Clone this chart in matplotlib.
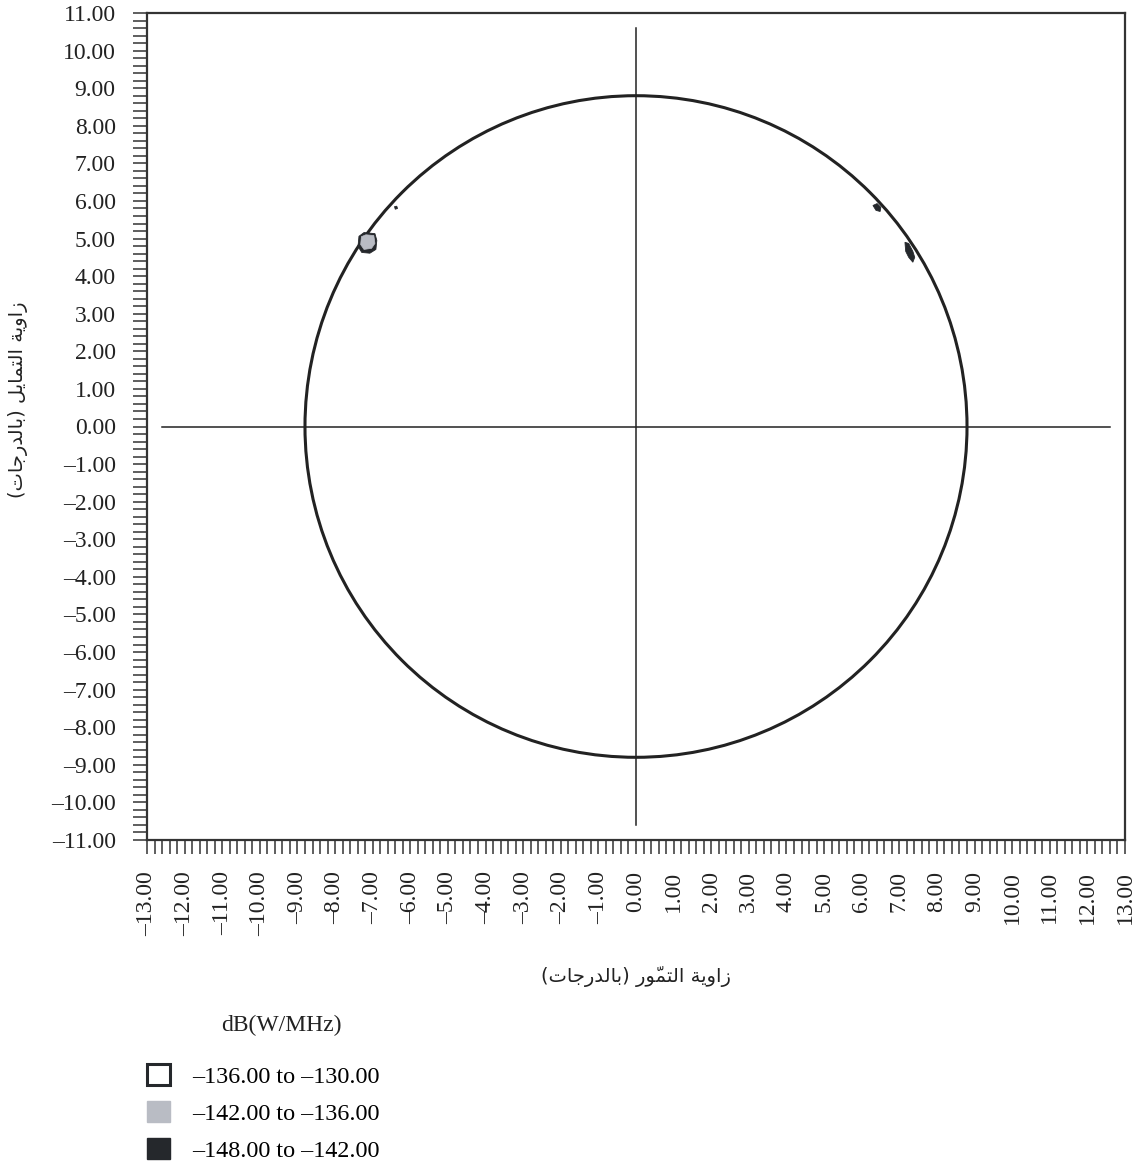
import matplotlib
matplotlib.use("Agg")
import matplotlib.pyplot as plt
from matplotlib.patches import Circle, Polygon, Patch
from matplotlib.ticker import MultipleLocator, FuncFormatter

# --- data ---
x_range = [-13.0, 13.0]
y_range = [-11.0, 11.0]
circle_radius = 8.8
h_line_x = [-12.6, 12.6]
h_line_y = [0.0, 0.0]
v_line_x = [0.0, 0.0]
v_line_y = [-10.6, 10.6]

# contour patches (azimuth, elevation)
blob_left_dark = [(-7.365, 5.06), (-7.23, 5.16), (-6.94, 5.13), (-6.89, 4.95),
                  (-6.915, 4.71), (-7.075, 4.61), (-7.29, 4.63), (-7.39, 4.79)]
blob_left_light = [(-7.30, 5.05), (-7.18, 5.10), (-6.97, 5.08), (-6.94, 4.87),
                   (-7.03, 4.74), (-7.23, 4.71), (-7.32, 4.84)]
dot_left = [(-6.42, 5.85), (-6.36, 5.86), (-6.34, 5.80), (-6.40, 5.78)]
blob_right_top = [(6.30, 5.88), (6.41, 5.93), (6.51, 5.83), (6.49, 5.72), (6.38, 5.75)]
blob_right_low = [(7.15, 4.90), (7.25, 4.87), (7.36, 4.66), (7.41, 4.50),
                  (7.36, 4.37), (7.25, 4.50), (7.17, 4.66)]

legend_labels = ["\u2013136.00 to \u2013130.00",
                 "\u2013142.00 to \u2013136.00",
                 "\u2013148.00 to \u2013142.00"]
legend_unit = "dB(W/MHz)"
xlabel_ar = "زاوية التموّر (بالدرجات)"
ylabel_ar = "زاوية التمايل (بالدرجات)"

light = "#b9bcc4"
dark = "#25282c"
ink = "#222222"

# simple Arabic shaping (presentation forms) since matplotlib has no text shaping
FORMS = {
    'ا': ('\uFE8D', '\uFE8E', None, None),
    'ب': ('\uFE8F', '\uFE90', '\uFE91', '\uFE92'),
    'ة': ('\uFE93', '\uFE94', None, None),
    'ت': ('\uFE95', '\uFE96', '\uFE97', '\uFE98'),
    'ج': ('\uFE9D', '\uFE9E', '\uFE9F', '\uFEA0'),
    'د': ('\uFEA9', '\uFEAA', None, None),
    'ر': ('\uFEAD', '\uFEAE', None, None),
    'ز': ('\uFEAF', '\uFEB0', None, None),
    'ل': ('\uFEDD', '\uFEDE', '\uFEDF', '\uFEE0'),
    'م': ('\uFEE1', '\uFEE2', '\uFEE3', '\uFEE4'),
    'و': ('\uFEED', '\uFEEE', None, None),
    'ي': ('\uFEF1', '\uFEF2', '\uFEF3', '\uFEF4'),
}
MARKS = {'\u0651'}


def shape_ar(text):
    # group into clusters (base + marks)
    clusters = []
    for ch in text:
        if ch in MARKS and clusters:
            clusters[-1] += ch
        else:
            clusters.append(ch)
    bases = [c[0] for c in clusters]
    out = []
    for i, c in enumerate(clusters):
        b = bases[i]
        if b not in FORMS:
            out.append(c)
            continue
        prev_j = i > 0 and bases[i - 1] in FORMS and FORMS[bases[i - 1]][2] is not None
        next_j = (FORMS[b][2] is not None and i + 1 < len(bases) and bases[i + 1] in FORMS)
        iso, fin, ini, med = FORMS[b]
        if prev_j and next_j:
            g = med
        elif prev_j:
            g = fin
        elif next_j:
            g = ini
        else:
            g = iso
        out.append(g + c[1:])
    out = out[::-1]
    swap = {'(': ')', ')': '('}
    return "".join(swap.get(c, c) for c in out)


def fmt(v, pos):
    return ("%.2f" % v).replace("-", "\u2013")


plt.rcParams['font.family'] = ['Liberation Serif', 'DejaVu Sans']

fig = plt.figure(figsize=(11.39, 11.67), dpi=100)
ax = fig.add_axes([147 / 1139, 1 - 840 / 1167, 978 / 1139, 827 / 1167])

ax.add_patch(Circle((0, 0), circle_radius, fill=False, edgecolor=ink, linewidth=2.2, zorder=3))
ax.plot(h_line_x, h_line_y, color=ink, linewidth=1.1, zorder=2)
ax.plot(v_line_x, v_line_y, color=ink, linewidth=1.1, zorder=2)

for pts in [blob_left_dark, blob_right_top, blob_right_low, dot_left]:
    ax.add_patch(Polygon(pts, closed=True, facecolor=dark, edgecolor=dark, linewidth=0.6, zorder=4))
ax.add_patch(Polygon(blob_left_light, closed=True, facecolor=light, edgecolor=light, linewidth=0.5, zorder=5))

ax.set_xlim(x_range)
ax.set_ylim(y_range)

ax.xaxis.set_major_locator(MultipleLocator(1))
ax.yaxis.set_major_locator(MultipleLocator(1))
ax.xaxis.set_minor_locator(MultipleLocator(0.2))
ax.yaxis.set_minor_locator(MultipleLocator(0.2))
ax.xaxis.set_major_formatter(FuncFormatter(fmt))
ax.yaxis.set_major_formatter(FuncFormatter(fmt))

ax.tick_params(axis='both', which='both', direction='out', length=10, width=1.1, color='#333333')
ax.tick_params(axis='both', which='major', labelsize=17, labelcolor='#222222', pad=12.5)
ax.tick_params(axis='x', which='major', labelrotation=90)
for sp in ax.spines.values():
    sp.set_linewidth(1.6)
    sp.set_color('#333333')

ax.set_xlabel(shape_ar(xlabel_ar), fontsize=14, family='DejaVu Sans', color='#222222', va='center')
ax.xaxis.set_label_coords(0.5, -0.165)
ax.set_ylabel(shape_ar(ylabel_ar), fontsize=14, family='DejaVu Sans', color='#222222', va='center')
ax.yaxis.set_label_coords(-0.132, 0.532)

handles = [Patch(facecolor='white', edgecolor=dark, linewidth=2.2),
           Patch(facecolor=light, edgecolor=light),
           Patch(facecolor=dark, edgecolor=dark)]
fig.legend(handles, legend_labels, loc='upper left',
           bbox_to_anchor=(147 / 1139, 1 - 1064 / 1167), frameon=False,
           fontsize=17.4, handlelength=0.95, handleheight=0.95,
           handletextpad=0.9, labelspacing=0.55, borderpad=0, borderaxespad=0)
fig.text(281 / 1139, 1 - 1025 / 1167, legend_unit, fontsize=17, ha='center', va='center',
         color='#222222')

fig.savefig("out.png", dpi=100)
